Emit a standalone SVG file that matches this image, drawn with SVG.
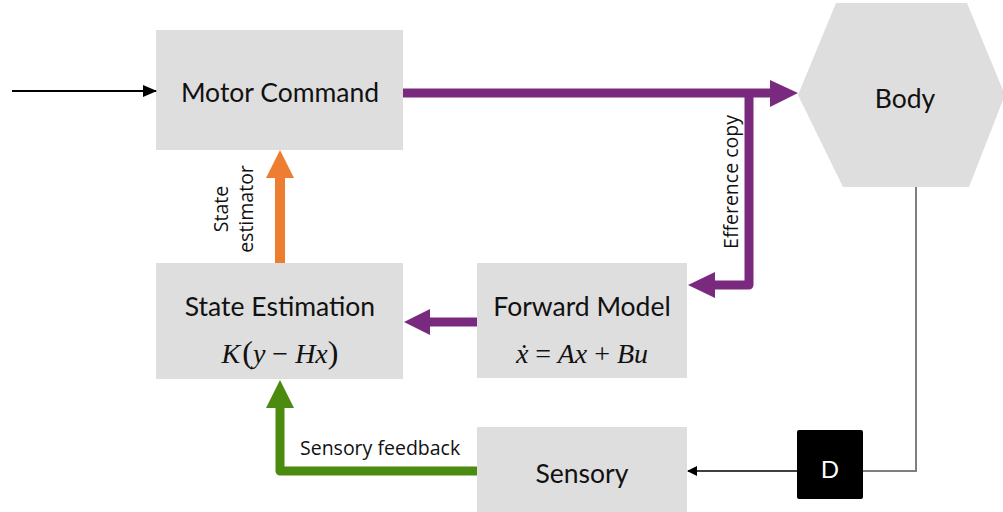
<svg xmlns="http://www.w3.org/2000/svg" width="1003" height="512" viewBox="0 0 1003 512">
<style>
.box{fill:#dedede;}
.lbl{font-family:Lato,"Open Sans",sans-serif;font-size:26.5px;fill:#111;text-anchor:middle;}
.math{font-family:"Liberation Serif",serif;font-style:italic;font-size:28px;fill:#111;text-anchor:middle;}
.cap{font-family:"Open Sans","Noto Sans",sans-serif;font-size:19.5px;fill:#111;}
.purple{stroke:#7a2a7e;stroke-width:9;fill:none;stroke-linejoin:round;}
</style>
<defs>
<marker id="blk" markerWidth="10" markerHeight="10" refX="9" refY="5" orient="auto" markerUnits="userSpaceOnUse">
<path d="M0,0 L10,5 L0,10 Z" fill="#000"/>
</marker>
<marker id="blk2" markerWidth="14" markerHeight="12" refX="13" refY="6" orient="auto" markerUnits="userSpaceOnUse">
<path d="M0,0 L14,6 L0,12 Z" fill="#000"/>
</marker>
</defs>
<g id="motor-command"><rect class="box" x="156" y="30" width="247" height="120"/><text class="lbl" x="280" y="102" font-size="27.5">Motor Command</text></g>
<g id="body"><polygon class="box" points="798,95 836,3 967,3 1005,95 969,187 843,187"/><text class="lbl" x="905" y="108">Body</text></g>
<g id="state-estimation"><rect class="box" x="156" y="263" width="247" height="116"/><text class="lbl" x="280" y="316">State Estimation</text><text class="math" x="280" y="363">K<tspan font-style="normal" font-size="32" dx="2">(</tspan>y <tspan font-style="normal">−</tspan> Hx<tspan font-style="normal" font-size="32">)</tspan></text></g>
<g id="forward-model"><rect class="box" x="477" y="263" width="210" height="115"/><text class="lbl" x="582" y="316">Forward Model</text><text class="math" x="582" y="363">ẋ <tspan font-style="normal">=</tspan> Ax <tspan font-style="normal">+</tspan> Bu</text></g>
<g id="sensory"><rect class="box" x="477" y="427" width="210" height="90"/><text class="lbl" x="582" y="483">Sensory</text></g>
<g id="delay"><rect x="797" y="430" width="66" height="69" rx="2" fill="#000"/><text x="830" y="478" font-family="Lato,sans-serif" font-size="24" fill="#fff" text-anchor="middle">D</text></g>
<g id="connectors">
<line x1="12" y1="91" x2="156" y2="91" stroke="#000" stroke-width="2" marker-end="url(#blk2)"/>
<path class="purple" d="M403,93 H772"/>
<polygon points="770,80 798,93 770,107" fill="#7a2a7e"/>
<path class="purple" d="M749,93 V285 H713"/>
<polygon points="715,272 688,285 715,298" fill="#7a2a7e"/>
<path class="purple" d="M477,322 H428"/>
<polygon points="430,309 404,322 430,335" fill="#7a2a7e"/>
<path d="M280,263 V176" stroke="#ed7d31" stroke-width="10" fill="none"/>
<polygon points="266,178 280,150 294,178" fill="#ed7d31"/>
<path d="M477,471 H280 V406" stroke="#4a8b10" stroke-width="9" fill="none" stroke-linejoin="round"/>
<polygon points="266,408 280,380 294,408" fill="#4a8b10"/>
<path d="M916,187 V471 H863" stroke="#7f7f7f" stroke-width="2" fill="none"/>
<line x1="797" y1="471" x2="688" y2="471" stroke="#000" stroke-width="1.5" marker-end="url(#blk)"/>
<text class="cap" transform="translate(738,182) rotate(-90)" text-anchor="middle">Efference copy</text>
<text class="cap" transform="translate(228,209) rotate(-90)" text-anchor="middle">State</text>
<text class="cap" transform="translate(253,209) rotate(-90)" text-anchor="middle">estimator</text>
<text class="cap" x="300" y="455">Sensory feedback</text>
</g>
</svg>
